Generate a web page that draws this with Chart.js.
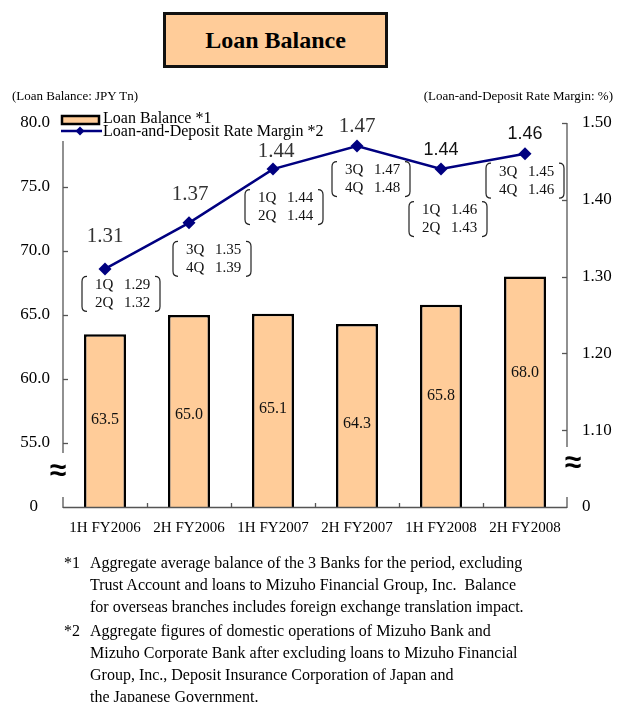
<!DOCTYPE html>
<html>
<head>
<meta charset="utf-8">
<script src="https://cdn.jsdelivr.net/npm/chart.js@4.4.1/dist/chart.umd.min.js"></script>
<style>
  html, body { margin: 0; padding: 0; background: #fff; }
  body { width: 617px; height: 702px; position: relative; overflow: hidden;
         font-family: 'Liberation Serif', 'Times New Roman', serif; color: #000; }
  #chart { position: absolute; left: 0; top: 0; }
  .title { position: absolute; left: 163px; top: 12px; width: 225px; height: 56px;
           box-sizing: border-box; border: 3px solid #111; background: #FFCC99;
           font-weight: bold; font-size: 24px; text-align: center; line-height: 50px; }
  .unit { position: absolute; top: 88px; font-size: 13px; line-height: 15px; white-space: nowrap; }
  .notes { position: absolute; left: 0; top: 552px; font-size: 16px; line-height: 22px; white-space: nowrap; }
  .note { position: relative; padding-left: 90px; }
  .note + .note { margin-top: 2px; }
  .note .mk { position: absolute; left: 64px; top: 0; }
</style>
</head>
<body>
<canvas id="chart" width="617" height="702"></canvas>
<div class="title">Loan Balance</div>
<div class="unit" style="left:12px;">(Loan Balance: JPY Tn)</div>
<div class="unit" style="right:4px;">(Loan-and-Deposit Rate Margin: %)</div>
<div class="notes">
  <div class="note"><span class="mk">*1</span>Aggregate average balance of the 3 Banks for the period, excluding<br>Trust Account and loans to Mizuho Financial Group, Inc.&nbsp; Balance<br>for overseas branches includes foreign exchange translation impact.</div>
  <div class="note"><span class="mk">*2</span>Aggregate figures of domestic operations of Mizuho Bank and<br>Mizuho Corporate Bank after excluding loans to Mizuho Financial<br>Group, Inc., Deposit Insurance Corporation of Japan and<br>the Japanese Government.</div>
</div>
<script>
// Half-year periods on the category axis
const categories = ['1H FY2006', '2H FY2006', '1H FY2007', '2H FY2007', '1H FY2008', '2H FY2008'];
// Loan balance, JPY trillion
const loanBalance = [63.5, 65.0, 65.1, 64.3, 65.8, 68.0];
// Loan-and-deposit rate margin, %
const rateMargin = [1.31, 1.37, 1.44, 1.47, 1.44, 1.46];
// Quarterly breakdown of each half-year margin
const quarterNames = [['1Q', '2Q'], ['3Q', '4Q'], ['1Q', '2Q'], ['3Q', '4Q'], ['1Q', '2Q'], ['3Q', '4Q']];
const quarterMargins = [[1.29, 1.32], [1.35, 1.39], [1.44, 1.44], [1.47, 1.48], [1.46, 1.43], [1.45, 1.46]];
// Axis ticks; the lowest tick sits below the axis break and reads "0"
const balanceTicks = [50, 55, 60, 65, 70, 75, 80];
const marginTicks = [1.0, 1.1, 1.2, 1.3, 1.4, 1.5];

const SERIF = "'Liberation Serif', 'Times New Roman', serif";
const SANS = "'Liberation Sans', Arial, sans-serif";
const NAVY = '#000080';
const PEACH = '#FFCC99';

// Label placement around each margin point (pixels)
const marginLabelStyle = [
  { dx: 0, dy: -32, font: '21px ' + SERIF, color: '#333' },
  { dx: 1, dy: -28, font: '21px ' + SERIF, color: '#333' },
  { dx: 3, dy: -18, font: '21px ' + SERIF, color: '#333' },
  { dx: 0, dy: -20, font: '21px ' + SERIF, color: '#333' },
  { dx: 0, dy: -19, font: '18px ' + SANS, color: '#111' },
  { dx: 0, dy: -20, font: '18px ' + SANS, color: '#111' }
];
// Centre of each quarterly bracket box relative to its point
const bracketOffset = [[16, 25], [23, 36], [11, 38], [14, 33], [7, 50], [0, 27]];
// Vertical nudge of each in-bar value label from the bar's middle
const barLabelNudge = [-1, 4, -2, 8, -10, -19];

function line(ctx, x1, y1, x2, y2) {
  ctx.beginPath(); ctx.moveTo(x1, y1); ctx.lineTo(x2, y2); ctx.stroke();
}

function bracketBox(ctx, cx, cy, names, vals) {
  const w = 78, h = 35, l = cx - w / 2, r = cx + w / 2, t = cy - h / 2, b = cy + h / 2, c = 5;
  ctx.strokeStyle = '#222'; ctx.lineWidth = 1.2;
  ctx.beginPath();
  ctx.moveTo(l + c, t); ctx.quadraticCurveTo(l, t, l, t + c);
  ctx.lineTo(l, b - c); ctx.quadraticCurveTo(l, b, l + c, b);
  ctx.stroke();
  ctx.beginPath();
  ctx.moveTo(r - c, t); ctx.quadraticCurveTo(r, t, r, t + c);
  ctx.lineTo(r, b - c); ctx.quadraticCurveTo(r, b, r - c, b);
  ctx.stroke();
  ctx.fillStyle = '#111'; ctx.font = '15px ' + SERIF; ctx.textBaseline = 'middle'; ctx.textAlign = 'left';
  [0, 1].forEach(i => {
    const yy = cy + (i === 0 ? -9 : 9);
    ctx.fillText(names[i], l + 13, yy);
    ctx.fillText(vals[i].toFixed(2), l + 42, yy);
  });
}

const decor = {
  id: 'decor',
  afterDatasetsDraw(chart) {
    const { ctx, chartArea: a, scales } = chart;
    const x = scales.x, y = scales.y, y1 = scales.y1;
    const b = a.bottom;
    ctx.save();

    // Axis lines with breaks near the bottom
    ctx.strokeStyle = '#555'; ctx.lineWidth = 1.3;
    line(ctx, a.left, a.top, a.left, b - 54);
    line(ctx, a.left, b - 10, a.left, b + 1);
    line(ctx, a.right, a.top, a.right, b - 60);
    line(ctx, a.right, b - 10, a.right, b + 1);
    line(ctx, a.left, b + 0.5, a.right, b + 0.5);

    // Inward tick marks
    balanceTicks.forEach(v => {
      if (v > 50) { const p = Math.round(y.getPixelForValue(v)) + 0.5; line(ctx, a.left, p, a.left + 5, p); }
    });
    marginTicks.forEach(v => {
      if (v > 1.0) { const p = Math.round(y1.getPixelForValue(v)) + 0.5; line(ctx, a.right - 5, p, a.right, p); }
    });
    for (let i = 1; i < categories.length; i++) {
      const p = Math.round((x.getPixelForValue(i - 1) + x.getPixelForValue(i)) / 2) + 0.5;
      line(ctx, p, b, p, b - 4);
    }

    // Break symbols
    ctx.fillStyle = '#000'; ctx.font = 'bold 30px ' + SANS;
    ctx.textAlign = 'center'; ctx.textBaseline = 'middle';
    ctx.fillText('\u2248', a.left - 5, b - 35);
    ctx.fillText('\u2248', a.right + 6, b - 43);

    // Values inside the bars
    ctx.font = '16px ' + SERIF; ctx.fillStyle = '#111';
    ctx.textAlign = 'center'; ctx.textBaseline = 'middle';
    const base = y.getPixelForValue(y.min);
    loanBalance.forEach((v, i) => {
      const top = y.getPixelForValue(v);
      ctx.fillText(v.toFixed(1), x.getPixelForValue(i), (top + base) / 2 + barLabelNudge[i]);
    });

    // Margin values above points, quarterly brackets below
    rateMargin.forEach((v, i) => {
      const px = x.getPixelForValue(i), py = y1.getPixelForValue(v);
      const s = marginLabelStyle[i];
      ctx.font = s.font; ctx.fillStyle = s.color; ctx.textAlign = 'center'; ctx.textBaseline = 'middle';
      ctx.fillText(v.toFixed(2), px + s.dx, py + s.dy);
      bracketBox(ctx, px + bracketOffset[i][0], py + bracketOffset[i][1], quarterNames[i], quarterMargins[i]);
    });
    ctx.restore();
  },
  afterDraw(chart) {
    const { ctx } = chart;
    const ds = chart.data.datasets;
    ctx.save();
    ctx.fillStyle = '#fff';
    ctx.fillRect(58, 110, 275, 31);
    // Bar swatch
    ctx.fillStyle = PEACH; ctx.strokeStyle = '#000'; ctx.lineWidth = 2.5;
    ctx.fillRect(62, 116, 37, 8); ctx.strokeRect(62, 116, 37, 8);
    // Line swatch
    ctx.strokeStyle = NAVY; ctx.lineWidth = 2.5;
    line(ctx, 61, 131, 102, 131);
    ctx.fillStyle = NAVY;
    ctx.beginPath(); ctx.moveTo(80, 126.5); ctx.lineTo(84.5, 131); ctx.lineTo(80, 135.5); ctx.lineTo(75.5, 131); ctx.closePath(); ctx.fill();
    ctx.fillStyle = '#000'; ctx.font = '16px ' + SERIF; ctx.textAlign = 'left'; ctx.textBaseline = 'middle';
    ctx.fillText(ds[0].label, 103, 119);
    ctx.fillText(ds[1].label, 103, 132);
    ctx.restore();
  }
};

Chart.defaults.font.family = SERIF;
Chart.defaults.color = '#000';

new Chart(document.getElementById('chart'), {
  data: {
    labels: categories,
    datasets: [
      {
        type: 'bar', label: 'Loan Balance *1', data: loanBalance, yAxisID: 'y', order: 1,
        backgroundColor: PEACH, borderColor: '#000', borderWidth: 2.5, borderSkipped: false,
        barPercentage: 0.5, categoryPercentage: 1.0
      },
      {
        type: 'line', label: 'Loan-and-Deposit Rate Margin *2', data: rateMargin, yAxisID: 'y1', order: 0,
        borderColor: NAVY, borderWidth: 2.5, pointStyle: 'rectRot', pointRadius: 6.5,
        pointBackgroundColor: NAVY, pointBorderColor: NAVY, pointBorderWidth: 0, tension: 0
      }
    ]
  },
  options: {
    responsive: false, animation: false, devicePixelRatio: 1,
    layout: { padding: { left: 0, right: 0, top: 123, bottom: 155 } },
    plugins: { legend: { display: false }, title: { display: false }, tooltip: { enabled: false } },
    scales: {
      x: {
        offset: true,
        grid: { display: false, drawTicks: false },
        border: { display: false },
        ticks: { font: { size: 15 }, color: '#000', padding: 12, maxRotation: 0, autoSkip: false },
        afterFit(s) { s.height = 40; }
      },
      y: {
        position: 'left', min: 50, max: 80,
        grid: { display: false, drawTicks: false },
        border: { display: false },
        afterBuildTicks(s) { s.ticks = balanceTicks.map(v => ({ value: v })); },
        ticks: {
          font: { size: 17 }, color: '#000', padding: 13,
          callback: v => (v === 50 ? '0\u2002\u2009' : Number(v).toFixed(1))
        },
        afterFit(s) { s.width = 63; }
      },
      y1: {
        position: 'right', min: 1.0, max: 1.5,
        grid: { display: false, drawTicks: false },
        border: { display: false },
        afterBuildTicks(s) { s.ticks = marginTicks.map(v => ({ value: v })); },
        ticks: {
          font: { size: 17 }, color: '#000', padding: 15,
          callback: v => (Math.abs(v - 1.0) < 1e-6 ? '0' : Number(v).toFixed(2))
        },
        afterFit(s) { s.width = 50; }
      }
    }
  },
  plugins: [decor]
});
</script>
</body>
</html>
